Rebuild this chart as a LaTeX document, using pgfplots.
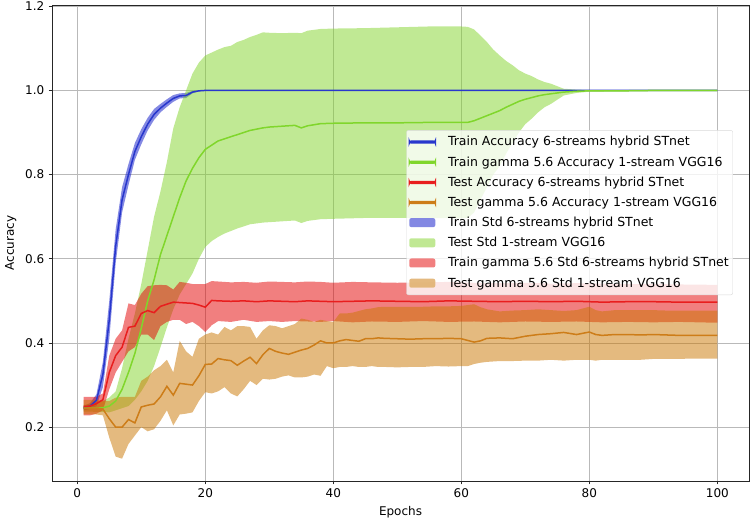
\documentclass[border=0pt]{standalone}
\usepackage{fontspec}
\setmainfont{DejaVu Sans}
\usepackage{pgfplots}
\pgfplotsset{compat=1.18}
\usepackage{pgfplotstable}
\usepgfplotslibrary{fillbetween}
\definecolor{bline}{RGB}{40,55,205}
\definecolor{bfill}{RGB}{10,20,200}
\definecolor{gline}{RGB}{128,214,44}
\definecolor{gfill}{RGB}{130,212,42}
\definecolor{rline}{RGB}{232,30,30}
\definecolor{rfill}{RGB}{228,0,0}
\definecolor{oline}{RGB}{205,125,25}
\definecolor{ofill}{RGB}{202,118,0}
\definecolor{gridc}{RGB}{185,185,185}
\pgfplotsset{
  myline/.style={legend image code/.code={\fill[##1, draw=none] (0pt,-0.9pt) rectangle (26pt,0.9pt); \path (36pt,0pt);}},
  myarea/.style={legend image code/.code={\draw[##1] (0pt,-4.5pt) rectangle (26pt,4.5pt); \path (36pt,0pt);}},
}

% Train accuracy, 6-streams hybrid STnet
\pgfplotstableread{
x m lo hi
1 0.245 0.240 0.250
2 0.250 0.243 0.257
3 0.264 0.250 0.278
4 0.325 0.295 0.355
5 0.455 0.410 0.500
6 0.630 0.590 0.670
7 0.740 0.710 0.770
8 0.800 0.775 0.825
9 0.855 0.835 0.875
10 0.890 0.872 0.908
11 0.920 0.905 0.935
12 0.943 0.930 0.956
13 0.958 0.948 0.968
14 0.970 0.961 0.979
15 0.981 0.973 0.989
16 0.987 0.981 0.993
17 0.988 0.982 0.994
18 0.996 0.993 0.999
19 0.999 0.998 1.000
20 1.000 0.9995 1.0005
30 1.000 0.9995 1.0005
40 1.000 0.9995 1.0005
50 1.000 0.9995 1.0005
60 1.000 0.9995 1.0005
70 1.000 0.9995 1.0005
80 1.000 0.9995 1.0005
90 1.000 0.9995 1.0005
100 1.000 0.9995 1.0005
}\blue

% Train gamma 5.6, 1-stream VGG16
\pgfplotstableread{
x m lo hi
1 0.245 0.237 0.253
2 0.245 0.237 0.255
3 0.245 0.236 0.258
4 0.246 0.236 0.262
5 0.250 0.235 0.270
6 0.262 0.240 0.285
7 0.290 0.245 0.340
8 0.330 0.250 0.410
9 0.375 0.265 0.470
10 0.435 0.285 0.540
11 0.500 0.310 0.620
12 0.550 0.345 0.700
13 0.610 0.390 0.760
14 0.655 0.437 0.830
15 0.700 0.480 0.910
16 0.745 0.515 0.960
17 0.785 0.540 1.000
18 0.815 0.565 1.040
19 0.840 0.600 1.066
20 0.860 0.628 1.083
21 0.870 0.642 1.090
22 0.880 0.652 1.097
23 0.885 0.660 1.103
24 0.890 0.666 1.106
25 0.895 0.672 1.115
26 0.900 0.677 1.120
27 0.905 0.682 1.127
28 0.908 0.684 1.132
29 0.911 0.686 1.138
30 0.913 0.687 1.137
32 0.915 0.689 1.136
34 0.917 0.691 1.137
35 0.911 0.685 1.136
36 0.916 0.690 1.142
38 0.921 0.694 1.146
40 0.922 0.695 1.147
45 0.923 0.697 1.148
50 0.923 0.697 1.150
55 0.924 0.697 1.152
60 0.924 0.696 1.152
61 0.924 0.697 1.151
62 0.928 0.710 1.145
63 0.934 0.740 1.130
64 0.940 0.770 1.115
65 0.946 0.800 1.097
66 0.952 0.820 1.083
67 0.960 0.850 1.070
68 0.967 0.875 1.060
69 0.974 0.900 1.048
70 0.979 0.920 1.040
71 0.983 0.933 1.034
72 0.987 0.948 1.026
73 0.990 0.960 1.020
74 0.992 0.968 1.016
75 0.994 0.978 1.010
76 0.996 0.988 1.004
78 0.998 0.994 1.002
80 0.999 0.997 1.001
85 0.999 0.998 1.000
90 1.000 0.998 1.001
100 1.000 0.998 1.001
}\green

% Test accuracy, 6-streams hybrid STnet
\pgfplotstableread{
x m lo hi
1 0.249 0.228 0.272
2 0.250 0.228 0.272
3 0.256 0.232 0.272
4 0.265 0.240 0.280
5 0.330 0.290 0.370
6 0.370 0.330 0.410
7 0.390 0.355 0.430
8 0.437 0.380 0.494
9 0.440 0.390 0.490
10 0.470 0.420 0.517
11 0.477 0.420 0.535
12 0.472 0.407 0.537
13 0.487 0.440 0.538
14 0.492 0.450 0.537
15 0.497 0.455 0.527
16 0.496 0.455 0.545
17 0.495 0.445 0.543
18 0.494 0.450 0.540
19 0.490 0.440 0.540
20 0.485 0.426 0.540
21 0.501 0.442 0.547
22 0.500 0.452 0.546
24 0.499 0.450 0.544
26 0.500 0.455 0.545
28 0.498 0.450 0.543
30 0.500 0.452 0.546
32 0.499 0.450 0.545
34 0.498 0.452 0.544
36 0.500 0.451 0.546
38 0.499 0.450 0.545
40 0.498 0.452 0.543
43 0.499 0.449 0.545
46 0.500 0.451 0.544
50 0.499 0.450 0.543
54 0.498 0.452 0.544
58 0.500 0.450 0.545
62 0.499 0.451 0.543
66 0.498 0.449 0.542
70 0.499 0.451 0.543
74 0.498 0.450 0.541
78 0.499 0.451 0.542
82 0.497 0.449 0.541
86 0.498 0.450 0.540
90 0.498 0.449 0.540
94 0.497 0.450 0.539
100 0.497 0.448 0.538
}\red

% Test gamma 5.6, 1-stream VGG16
\pgfplotstableread{
x m lo hi
1 0.245 0.230 0.265
2 0.245 0.230 0.265
3 0.245 0.230 0.265
4 0.243 0.228 0.262
5 0.220 0.175 0.262
6 0.200 0.130 0.270
7 0.200 0.125 0.272
8 0.218 0.160 0.272
9 0.210 0.180 0.272
10 0.248 0.200 0.310
11 0.252 0.190 0.320
12 0.255 0.195 0.335
13 0.272 0.215 0.345
14 0.297 0.240 0.360
15 0.276 0.204 0.330
16 0.304 0.230 0.405
17 0.302 0.232 0.380
18 0.300 0.235 0.367
19 0.322 0.262 0.410
20 0.349 0.283 0.420
21 0.350 0.280 0.425
22 0.363 0.285 0.420
23 0.360 0.295 0.438
24 0.358 0.280 0.430
25 0.347 0.273 0.440
26 0.357 0.290 0.440
27 0.366 0.310 0.438
28 0.351 0.300 0.410
29 0.372 0.315 0.430
30 0.387 0.313 0.442
31 0.380 0.315 0.440
32 0.376 0.320 0.435
33 0.373 0.323 0.440
34 0.378 0.318 0.445
35 0.383 0.318 0.458
36 0.387 0.320 0.455
37 0.395 0.325 0.450
38 0.405 0.322 0.455
39 0.400 0.345 0.452
40 0.400 0.340 0.450
41 0.405 0.343 0.470
42 0.408 0.343 0.470
43 0.406 0.345 0.472
44 0.404 0.343 0.476
45 0.410 0.343 0.480
46 0.410 0.345 0.482
47 0.412 0.343 0.485
48 0.411 0.343 0.486
50 0.410 0.342 0.486
52 0.409 0.343 0.486
54 0.410 0.343 0.486
56 0.410 0.345 0.487
58 0.411 0.344 0.487
60 0.410 0.345 0.488
61 0.406 0.345 0.490
62 0.402 0.350 0.492
63 0.405 0.353 0.485
64 0.411 0.355 0.480
66 0.412 0.357 0.475
68 0.410 0.357 0.477
70 0.416 0.358 0.478
72 0.420 0.358 0.480
74 0.422 0.360 0.478
76 0.425 0.358 0.476
78 0.420 0.360 0.478
80 0.426 0.360 0.486
81 0.420 0.358 0.478
82 0.418 0.360 0.475
84 0.420 0.360 0.478
86 0.420 0.360 0.478
88 0.419 0.360 0.478
90 0.420 0.362 0.478
92 0.419 0.362 0.477
94 0.418 0.362 0.477
96 0.418 0.363 0.477
98 0.418 0.363 0.477
100 0.418 0.363 0.477
}\orange

\begin{document}
\fontsize{12}{14.4}\selectfont
\begin{tikzpicture}
\begin{axis}[
  set layers,
  scale only axis, width=697pt, height=476pt,
  xmin=-3.95, xmax=104.95, ymin=0.072, ymax=1.203,
  xtick={0,20,40,60,80,100}, ytick={0.2,0.4,0.6,0.8,1.0,1.2},
  /pgf/number format/assume math mode=true,
  yticklabel style={/pgf/number format/.cd, fixed, fixed zerofill, precision=1},
  ticklabel style={font=\fontsize{12}{14}\selectfont},
  grid=major, major grid style={gridc, line width=0.8pt},
  axis line style={black!85, line width=0.9pt},
  tick align=outside, major tick length=3.5pt, tick style={black!85, line width=0.8pt},
  tick pos=left,
  xlabel={Epochs}, ylabel={Accuracy},
  label style={font=\fontsize{12}{14}\selectfont},
  xlabel style={at={(axis description cs:0.5,-0.065)}, anchor=center},
  ylabel style={at={(axis description cs:-0.059,0.5)}, anchor=center},
  legend style={at={(0.977,0.737)}, anchor=north east, font=\fontsize{12.5}{14}\selectfont,
    draw=black!15, rounded corners=2pt, fill=none,
    preaction={fill=white, fill opacity=0.8},
    row sep=4.9pt, inner xsep=2pt, inner ysep=4pt},
  legend cell align=left,
]
% mean curves (main layer, above the bands)
\addplot[color=bline, line width=1.5pt, myline] table[x=x,y=m]{\blue};
\addlegendentry{Train Accuracy 6-streams hybrid STnet}
\addplot[color=gline, line width=1.5pt, myline] table[x=x,y=m]{\green};
\addlegendentry{Train gamma 5.6 Accuracy 1-stream VGG16}
\addplot[color=rline, line width=1.5pt, myline] table[x=x,y=m]{\red};
\addlegendentry{Test Accuracy 6-streams hybrid STnet}
\addplot[color=oline, line width=1.5pt, myline] table[x=x,y=m]{\orange};
\addlegendentry{Test gamma 5.6 Accuracy 1-stream VGG16}
% bands (fill between goes on the pre main layer)
\addplot[name path=bhi, draw=none, forget plot] table[x=x,y=hi]{\blue};
\addplot[name path=blo, draw=none, forget plot] table[x=x,y=lo]{\blue};
\addplot[fill=bfill, fill opacity=0.5, draw=bfill, draw opacity=0, myarea] fill between[of=bhi and blo];
\addlegendentry{Train Std 6-streams hybrid STnet}
\addplot[name path=ghi, draw=none, forget plot] table[x=x,y=hi]{\green};
\addplot[name path=glo, draw=none, forget plot] table[x=x,y=lo]{\green};
\addplot[fill=gfill, fill opacity=0.5, draw=gfill, draw opacity=0, myarea] fill between[of=ghi and glo];
\addlegendentry{Test Std 1-stream VGG16}
\addplot[name path=rhi, draw=none, forget plot] table[x=x,y=hi]{\red};
\addplot[name path=rlo, draw=none, forget plot] table[x=x,y=lo]{\red};
\addplot[fill=rfill, fill opacity=0.5, draw=rfill, draw opacity=0, myarea] fill between[of=rhi and rlo];
\addlegendentry{Train gamma 5.6 Std 6-streams hybrid STnet}
\addplot[name path=ohi, draw=none, forget plot] table[x=x,y=hi]{\orange};
\addplot[name path=olo, draw=none, forget plot] table[x=x,y=lo]{\orange};
\addplot[fill=ofill, fill opacity=0.5, draw=ofill, draw opacity=0, myarea] fill between[of=ohi and olo];
\addlegendentry{Test gamma 5.6 Std 1-stream VGG16}
\coordinate (SW) at (rel axis cs:0,0);
\coordinate (NE) at (rel axis cs:1,1);
\end{axis}
\pgfresetboundingbox
\path[use as bounding box] ([shift={(-52pt,-40pt)}]SW) rectangle ([shift={(3pt,5pt)}]NE);
\end{tikzpicture}
\end{document}
